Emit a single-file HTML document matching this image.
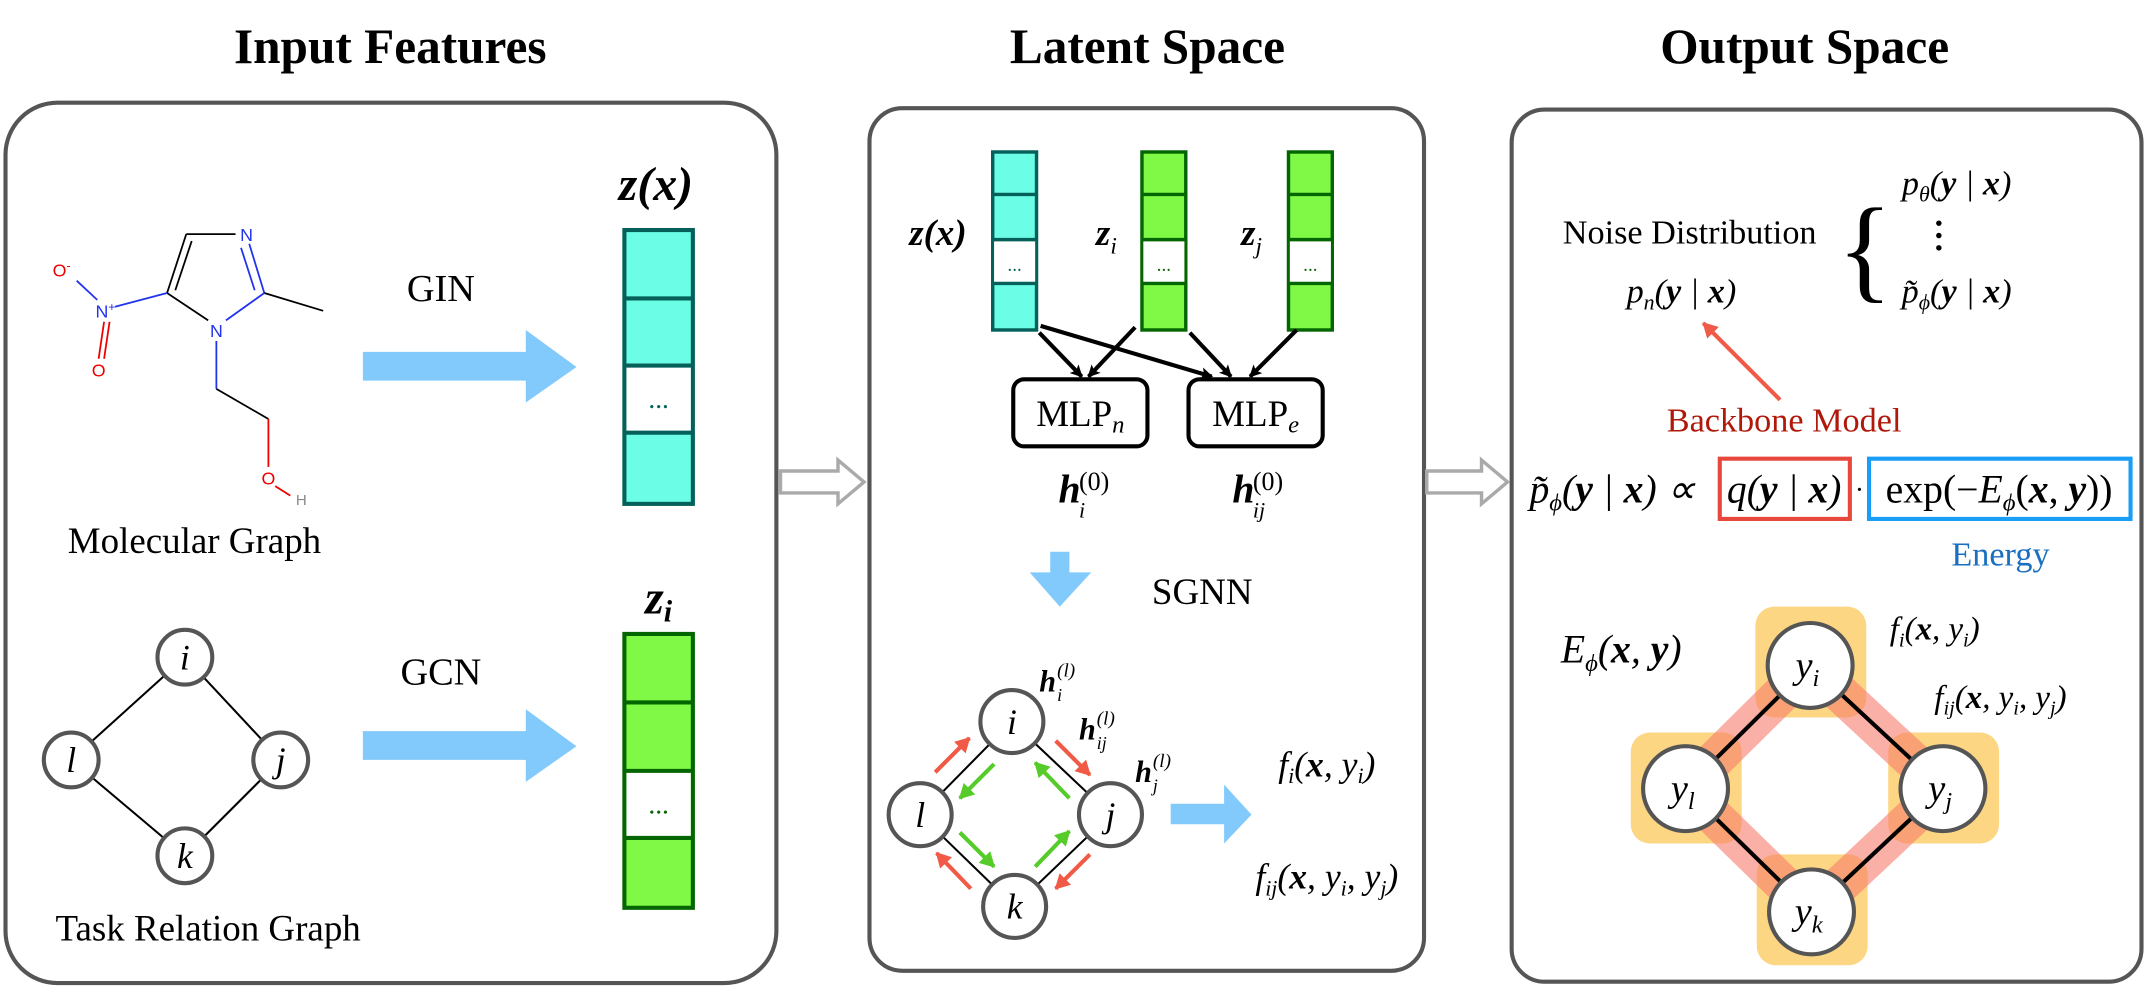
<!DOCTYPE html>
<html><head><meta charset="utf-8"><style>
html,body{margin:0;padding:0;background:#fff}
svg{display:block;font-family:"Liberation Serif",serif}
text,tspan{font-family:"Liberation Serif",serif}
</style></head><body>
<svg width="2147" height="992" viewBox="0 0 1568 724.5" xmlns="http://www.w3.org/2000/svg" font-family="Liberation Serif, serif">
<defs>
<marker id="ab" markerWidth="9" markerHeight="9" refX="8" refY="4.5" orient="auto" markerUnits="userSpaceOnUse"><path d="M0,0 L9,4.5 L0,9 L2,4.5 z" fill="#000"/></marker>
<marker id="ar" markerWidth="12" markerHeight="12" refX="10" refY="6" orient="auto" markerUnits="userSpaceOnUse"><path d="M0,0 L11,6 L0,12 z" fill="#f05a46"/></marker>
<marker id="ag" markerWidth="12" markerHeight="12" refX="10" refY="6" orient="auto" markerUnits="userSpaceOnUse"><path d="M0,0 L11,6 L0,12 z" fill="#55cc2a"/></marker>
</defs>

<text x="285" y="46" font-size="36" font-weight="bold" text-anchor="middle">Input Features</text>
<text x="838" y="46" font-size="36" font-weight="bold" text-anchor="middle">Latent Space</text>
<text x="1318" y="46" font-size="36" font-weight="bold" text-anchor="middle">Output Space</text>

<rect x="4" y="75" width="563" height="643" rx="38" fill="#fff" stroke="#555" stroke-width="3"/>
<rect x="635" y="79" width="405" height="630" rx="24" fill="#fff" stroke="#555" stroke-width="3"/>
<rect x="1104" y="80" width="460" height="637" rx="24" fill="#fff" stroke="#555" stroke-width="3"/>

<path d="M570,344 L612,344 L612,336 L631,352 L612,368 L612,360 L570,360 z" fill="#fff" stroke="#aaa" stroke-width="2.5"/>
<path d="M1042,344 L1082,344 L1082,336 L1101,352 L1082,368 L1082,360 L1042,360 z" fill="#fff" stroke="#aaa" stroke-width="2.5"/>

<g stroke-width="1.3" fill="none">
<line x1="122" y1="214" x2="136" y2="171" stroke="#000"/>
<line x1="128" y1="212" x2="140" y2="176" stroke="#000"/>
<line x1="136" y1="171" x2="172" y2="171" stroke="#000"/>
<line x1="182" y1="178" x2="193" y2="214" stroke="#2233ee"/>
<line x1="176" y1="181" x2="186" y2="212" stroke="#2233ee"/>
<line x1="193" y1="214" x2="236" y2="227" stroke="#000"/>
<line x1="193" y1="214" x2="165" y2="234" stroke="#2233ee"/>
<line x1="122" y1="214" x2="152" y2="234" stroke="#000"/>
<line x1="122" y1="214" x2="84" y2="224" stroke="#2233ee"/>
<line x1="71" y1="219" x2="56" y2="205" stroke="#2233ee"/>
<line x1="76" y1="235" x2="72" y2="262" stroke="#ee0000"/>
<line x1="80" y1="235" x2="76" y2="262" stroke="#ee0000"/>
<line x1="158" y1="249" x2="158" y2="284" stroke="#2233ee"/>
<line x1="158" y1="284" x2="196" y2="306" stroke="#000"/>
<line x1="196" y1="306" x2="196" y2="341" stroke="#ee0000"/>
<line x1="201" y1="355" x2="212" y2="362" stroke="#ee0000"/>
</g>
<g font-size="13" text-anchor="middle">
<text x="180" y="176" fill="#2233ee" style="font-family:'Liberation Sans',sans-serif">N</text>
<text x="158" y="246" fill="#2233ee" style="font-family:'Liberation Sans',sans-serif">N</text>
<text x="77" y="232" fill="#2233ee" style="font-family:'Liberation Sans',sans-serif">N<tspan font-size="9" dy="-5" style="font-family:'Liberation Sans',sans-serif">+</tspan></text>
<text x="45" y="202" fill="#ee0000" style="font-family:'Liberation Sans',sans-serif">O<tspan font-size="9" dy="-5" style="font-family:'Liberation Sans',sans-serif">-</tspan></text>
<text x="72" y="275" fill="#ee0000" style="font-family:'Liberation Sans',sans-serif">O</text>
<text x="196" y="354" fill="#ee0000" style="font-family:'Liberation Sans',sans-serif">O</text>
<text x="220" y="369" fill="#888" font-size="11" style="font-family:'Liberation Sans',sans-serif">H</text>
</g>
<text x="142" y="404" font-size="27" text-anchor="middle">Molecular Graph</text>

<text x="322" y="220" font-size="28" text-anchor="middle">GIN</text>
<path d="M265,257 L384,257 L384,241 L421,268 L384,294 L384,278 L265,278 z" fill="#82c9fc"/>
<text x="479" y="146" font-size="35" font-weight="bold" font-style="italic" text-anchor="middle">z(x)</text>
<rect x="456" y="168" width="50" height="200" fill="#6bfde6" stroke="#046058" stroke-width="3"/>
<rect x="457.5" y="267" width="47" height="49" fill="#fff"/>
<g stroke="#046058" stroke-width="3"><line x1="456" y1="218" x2="506" y2="218"/><line x1="456" y1="267" x2="506" y2="267"/><line x1="456" y1="316" x2="506" y2="316"/></g>
<text x="481" y="298" font-size="20" fill="#046058" text-anchor="middle">...</text>

<g stroke="#000" stroke-width="1.5"><line x1="135" y1="480" x2="52" y2="555"/><line x1="135" y1="480" x2="205" y2="555"/><line x1="52" y1="555" x2="135" y2="625"/><line x1="205" y1="555" x2="135" y2="625"/></g>
<g fill="#fff" stroke="#555" stroke-width="3">
<circle cx="135" cy="480" r="20"/><circle cx="52" cy="555" r="20"/><circle cx="205" cy="555" r="20"/><circle cx="135" cy="625" r="20"/></g>
<g font-size="26" font-style="italic" text-anchor="middle">
<text x="135" y="489">i</text><text x="52" y="564">l</text><text x="205" y="564">j</text><text x="135" y="634">k</text></g>
<text x="152" y="687" font-size="27" text-anchor="middle">Task Relation Graph</text>

<text x="322" y="500" font-size="28" text-anchor="middle">GCN</text>
<path d="M265,534 L384,534 L384,518 L421,545 L384,571 L384,555 L265,555 z" fill="#82c9fc"/>
<text x="481" y="448" font-size="35" font-weight="bold" font-style="italic" text-anchor="middle">z<tspan font-size="22" dy="6">i</tspan></text>
<rect x="456" y="463" width="50" height="200" fill="#7ff946" stroke="#046600" stroke-width="3"/>
<rect x="457.5" y="563" width="47" height="49" fill="#fff"/>
<g stroke="#046600" stroke-width="3"><line x1="456" y1="513" x2="506" y2="513"/><line x1="456" y1="563" x2="506" y2="563"/><line x1="456" y1="612" x2="506" y2="612"/></g>
<text x="481" y="594" font-size="20" fill="#046600" text-anchor="middle">...</text>

<g stroke-width="2.5">
<rect x="725" y="111" width="32" height="130" fill="#6bfde6" stroke="#046058"/>
<rect x="726" y="175" width="30" height="32" fill="#fff"/>
<g stroke="#046058"><line x1="725" y1="142" x2="757" y2="142"/><line x1="725" y1="175" x2="757" y2="175"/><line x1="725" y1="207" x2="757" y2="207"/></g>
<rect x="834" y="111" width="32" height="130" fill="#7ff946" stroke="#046600"/>
<rect x="835" y="175" width="30" height="32" fill="#fff"/>
<g stroke="#046600"><line x1="834" y1="142" x2="866" y2="142"/><line x1="834" y1="175" x2="866" y2="175"/><line x1="834" y1="207" x2="866" y2="207"/></g>
<rect x="941" y="111" width="32" height="130" fill="#7ff946" stroke="#046600"/>
<rect x="942" y="175" width="30" height="32" fill="#fff"/>
<g stroke="#046600"><line x1="941" y1="142" x2="973" y2="142"/><line x1="941" y1="175" x2="973" y2="175"/><line x1="941" y1="207" x2="973" y2="207"/></g>
</g>
<g font-size="14" text-anchor="middle"><text x="741" y="198" fill="#046058">...</text><text x="850" y="198" fill="#046600">...</text><text x="957" y="198" fill="#046600">...</text></g>
<text x="685" y="179" font-size="27" font-weight="bold" font-style="italic" text-anchor="middle">z(x)</text>
<text x="808" y="179" font-size="27" font-weight="bold" font-style="italic" text-anchor="middle">z<tspan font-size="17" font-weight="normal" dy="6">i</tspan></text>
<text x="914" y="179" font-size="27" font-weight="bold" font-style="italic" text-anchor="middle">z<tspan font-size="17" font-weight="normal" dy="6">j</tspan></text>

<g stroke="#000" stroke-width="3" marker-end="url(#ab)">
<line x1="759" y1="243" x2="790" y2="275"/>
<line x1="829" y1="239" x2="795" y2="275"/>
<line x1="760" y1="238" x2="885" y2="275"/>
<line x1="869" y1="243" x2="899" y2="275"/>
<line x1="947" y1="241" x2="913" y2="275"/>
</g>
<rect x="740" y="277" width="98" height="49" rx="8" fill="#fff" stroke="#000" stroke-width="3"/>
<rect x="868" y="277" width="98" height="49" rx="8" fill="#fff" stroke="#000" stroke-width="3"/>
<text x="789" y="311" font-size="27" text-anchor="middle">MLP<tspan font-size="18" font-style="italic" dy="5">n</tspan></text>
<text x="917" y="311" font-size="27" text-anchor="middle">MLP<tspan font-size="18" font-style="italic" dy="5">e</tspan></text>
<text x="773" y="367" font-size="29" font-weight="bold" font-style="italic">h</text>
<text x="788" y="378" font-size="16" font-style="italic">i</text>
<text x="788" y="358" font-size="19">(0)</text>
<text x="900" y="367" font-size="29" font-weight="bold" font-style="italic">h</text>
<text x="915" y="378" font-size="16" font-style="italic">ij</text>
<text x="915" y="358" font-size="19">(0)</text>

<path d="M767,403 L781,403 L781,418 L797,418 L774,443 L752,418 L767,418 z" fill="#82c9fc"/>
<text x="878" y="441" font-size="27" text-anchor="middle">SGNN</text>

<g stroke="#000" stroke-width="1.5"><line x1="739" y1="527" x2="672" y2="595"/><line x1="739" y1="527" x2="811" y2="595"/><line x1="672" y1="595" x2="741" y2="662"/><line x1="811" y1="595" x2="741" y2="662"/></g>
<g stroke-width="3">
<line x1="683" y1="564" x2="708" y2="539" stroke="#f05a46" marker-end="url(#ar)"/>
<line x1="771" y1="541" x2="796" y2="566" stroke="#f05a46" marker-end="url(#ar)"/>
<line x1="796" y1="624" x2="771" y2="649" stroke="#f05a46" marker-end="url(#ar)"/>
<line x1="709" y1="649" x2="684" y2="623" stroke="#f05a46" marker-end="url(#ar)"/>
<line x1="726" y1="558" x2="701" y2="583" stroke="#55cc2a" marker-end="url(#ag)"/>
<line x1="701" y1="608" x2="726" y2="633" stroke="#55cc2a" marker-end="url(#ag)"/>
<line x1="756" y1="633" x2="781" y2="607" stroke="#55cc2a" marker-end="url(#ag)"/>
<line x1="781" y1="583" x2="756" y2="557" stroke="#55cc2a" marker-end="url(#ag)"/>
</g>
<g fill="#fff" stroke="#555" stroke-width="3">
<circle cx="739" cy="527" r="23"/><circle cx="672" cy="595" r="23"/><circle cx="811" cy="595" r="23"/><circle cx="741" cy="662" r="23"/></g>
<g font-size="26" font-style="italic" text-anchor="middle">
<text x="739" y="536">i</text><text x="672" y="604">l</text><text x="811" y="604">j</text><text x="741" y="671">k</text></g>
<g font-style="italic">
<text x="759" y="505" font-size="22" font-weight="bold">h</text><text x="772" y="512" font-size="13">i</text><text x="772" y="494" font-size="14">(l)</text>
<text x="788" y="540" font-size="22" font-weight="bold">h</text><text x="801" y="547" font-size="13">ij</text><text x="801" y="529" font-size="14">(l)</text>
<text x="829" y="571" font-size="22" font-weight="bold">h</text><text x="842" y="578" font-size="13">j</text><text x="842" y="560" font-size="14">(l)</text>
</g>
<path d="M855,587 L894,587 L894,573 L914,595 L894,616 L894,602 L855,602 z" fill="#82c9fc"/>
<text x="969" y="567" font-size="26" font-style="italic" text-anchor="middle">f<tspan font-size="16" dy="5">i</tspan><tspan dy="-5">(</tspan><tspan font-weight="bold">x</tspan>, y<tspan font-size="16" dy="5">i</tspan><tspan dy="-5">)</tspan></text>
<text x="969" y="649" font-size="26" font-style="italic" text-anchor="middle">f<tspan font-size="16" dy="5">ij</tspan><tspan dy="-5">(</tspan><tspan font-weight="bold">x</tspan>, y<tspan font-size="16" dy="5">i</tspan><tspan dy="-5">, y</tspan><tspan font-size="16" dy="5">j</tspan><tspan dy="-5">)</tspan></text>

<text x="1234" y="178" font-size="25" text-anchor="middle">Noise Distribution</text>
<text x="1228" y="221" font-size="25" font-style="italic" text-anchor="middle">p<tspan font-size="16" dy="5">n</tspan><tspan dy="-5">(</tspan><tspan font-weight="bold">y</tspan> | <tspan font-weight="bold">x</tspan>)</text>
<text x="1362" y="210" font-size="84" text-anchor="middle">{</text>
<text x="1429" y="142" font-size="25" font-style="italic" text-anchor="middle">p<tspan font-size="16" dy="5">θ</tspan><tspan dy="-5">(</tspan><tspan font-weight="bold">y</tspan> | <tspan font-weight="bold">x</tspan>)</text>
<g fill="#000"><circle cx="1416" cy="163" r="2"/><circle cx="1416" cy="172" r="2"/><circle cx="1416" cy="181" r="2"/></g>
<text x="1429" y="221" font-size="25" font-style="italic" text-anchor="middle">p̃<tspan font-size="16" dy="5">ϕ</tspan><tspan dy="-5">(</tspan><tspan font-weight="bold">y</tspan> | <tspan font-weight="bold">x</tspan>)</text>
<line x1="1300" y1="292" x2="1244" y2="236" stroke="#f05a46" stroke-width="3" marker-end="url(#ar)"/>
<text x="1303" y="315" font-size="25" fill="#b0180a" text-anchor="middle">Backbone Model</text>

<text x="1117" y="367" font-size="29" font-style="italic">p̃<tspan font-size="18" dy="6">ϕ</tspan><tspan dy="-6">(</tspan><tspan font-weight="bold">y</tspan> | <tspan font-weight="bold">x</tspan>) ∝</text>
<rect x="1256" y="335" width="95" height="44" fill="none" stroke="#e8473b" stroke-width="3"/>
<text x="1303" y="367" font-size="29" font-style="italic" text-anchor="middle">q(<tspan font-weight="bold">y</tspan> | <tspan font-weight="bold">x</tspan>)</text>
<text x="1358" y="364" font-size="20" text-anchor="middle">·</text>
<rect x="1365" y="335" width="191" height="44" fill="none" stroke="#1a9df6" stroke-width="3"/>
<text x="1460" y="367" font-size="29" text-anchor="middle">exp(−<tspan font-style="italic">E</tspan><tspan font-size="18" font-style="italic" dy="6">ϕ</tspan><tspan dy="-6">(</tspan><tspan font-weight="bold" font-style="italic">x</tspan>, <tspan font-weight="bold" font-style="italic">y</tspan>))</text>
<text x="1461" y="413" font-size="25" fill="#1a6fc0" text-anchor="middle">Energy</text>

<text x="1184" y="484" font-size="29" font-style="italic" text-anchor="middle">E<tspan font-size="18" dy="6">ϕ</tspan><tspan dy="-6">(</tspan><tspan font-weight="bold">x</tspan>, <tspan font-weight="bold">y</tspan>)</text>

<g fill="#fcc54f" fill-opacity="0.7">
<rect x="1282" y="443" width="81" height="81" rx="14"/>
<rect x="1191" y="535" width="81" height="81" rx="14"/>
<rect x="1379" y="535" width="81" height="81" rx="14"/>
<rect x="1283" y="624" width="81" height="81" rx="14"/>
</g>
<g stroke="#f87c6c" stroke-opacity="0.6" stroke-width="28">
<line x1="1322" y1="486" x2="1231" y2="576"/><line x1="1322" y1="486" x2="1419" y2="576"/>
<line x1="1231" y1="576" x2="1323" y2="666"/><line x1="1419" y1="576" x2="1323" y2="666"/>
</g>
<g stroke="#000" stroke-width="3"><line x1="1322" y1="486" x2="1231" y2="576"/><line x1="1322" y1="486" x2="1419" y2="576"/><line x1="1231" y1="576" x2="1323" y2="666"/><line x1="1419" y1="576" x2="1323" y2="666"/></g>
<g fill="#fff" stroke="#555" stroke-width="3">
<circle cx="1322" cy="486" r="31"/><circle cx="1231" cy="576" r="31"/><circle cx="1419" cy="576" r="31"/><circle cx="1323" cy="666" r="31"/></g>
<g font-size="28" font-style="italic" text-anchor="middle">
<text x="1320" y="495">y<tspan font-size="18" dy="6">i</tspan></text>
<text x="1229" y="585">y<tspan font-size="18" dy="6">l</tspan></text>
<text x="1417" y="585">y<tspan font-size="18" dy="6">j</tspan></text>
<text x="1321" y="675">y<tspan font-size="18" dy="6">k</tspan></text>
</g>
<text x="1413" y="467" font-size="24" font-style="italic" text-anchor="middle">f<tspan font-size="15" dy="5">i</tspan><tspan dy="-5">(</tspan><tspan font-weight="bold">x</tspan>, y<tspan font-size="15" dy="5">i</tspan><tspan dy="-5">)</tspan></text>
<text x="1461" y="517" font-size="24" font-style="italic" text-anchor="middle">f<tspan font-size="15" dy="5">ij</tspan><tspan dy="-5">(</tspan><tspan font-weight="bold">x</tspan>, y<tspan font-size="15" dy="5">i</tspan><tspan dy="-5">, y</tspan><tspan font-size="15" dy="5">j</tspan><tspan dy="-5">)</tspan></text>
</svg>
</body></html>
